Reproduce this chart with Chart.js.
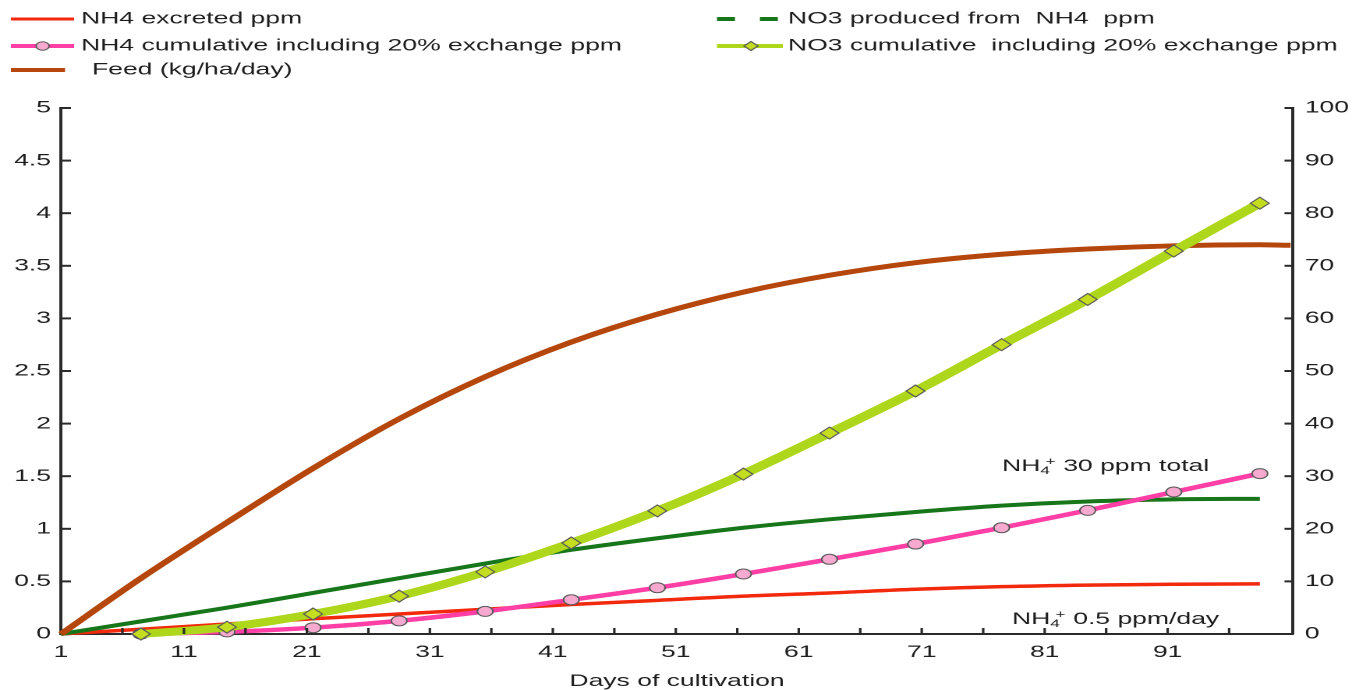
<!DOCTYPE html>
<html>
<head>
<meta charset="utf-8">
<title>Nitrogen budget over the cultivation period</title>
<script src="https://cdn.jsdelivr.net/npm/chart.js@4/dist/chart.umd.min.js"></script>
<style>
  html, body { margin: 0; padding: 0; background: #ffffff; overflow: hidden; }
  /* the chart is laid out narrow and widened horizontally */
  #wrap { width: 867px; height: 690px; transform: scaleX(1.5594); transform-origin: 0 0; }
  canvas { display: block; }
</style>
</head>
<body>
<div id="wrap"><canvas id="chart" width="867" height="690"></canvas></div>
<script>
// Day of cultivation for each sampled point (weekly marker points, plus start and end)
const days = [1, 7.5, 14.5, 21.5, 28.5, 35.5, 42.5, 49.5, 56.5, 63.5, 70.5, 77.5, 84.5, 91.5, 98.5, 101];

// Left axis (0-5)
const nh4Excreted = [0, 0.045, 0.095, 0.145, 0.19, 0.235, 0.28, 0.32, 0.36, 0.39, 0.425, 0.45, 0.465, 0.473, 0.476, null];
const no3Produced = [0, 0.12, 0.25, 0.39, 0.53, 0.67, 0.80, 0.91, 1.01, 1.09, 1.16, 1.22, 1.26, 1.28, 1.285, null];

// Right axis (0-100)
const feed = [0, 10.6, 21.2, 31.5, 40.9, 48.9, 55.5, 60.8, 65.0, 68.2, 70.6, 72.2, 73.2, 73.8, 74.0, 73.9];
const nh4Cumulative = [null, 0, 0.4, 1.2, 2.5, 4.3, 6.5, 8.8, 11.4, 14.2, 17.1, 20.2, 23.5, 27.0, 30.5, null];
const no3Cumulative = [null, 0, 1.3, 3.8, 7.2, 11.8, 17.3, 23.4, 30.4, 38.2, 46.2, 55.0, 63.6, 72.8, 81.9, null];

// Axis ranges and tick steps
const leftTicks = { min: 0, max: 5, step: 0.5 };
const rightTicks = { min: 0, max: 100, step: 10 };
const dayTicks = { min: 1, max: 101.2, last: 96, minorStep: 5, labelStep: 10 };

const seriesNames = [
  'NH4 excreted ppm',
  'NH4 cumulative including 20% exchange ppm',
  'Feed (kg/ha/day)',
  'NO3 produced from  NH4  ppm',
  'NO3 cumulative  including 20% exchange ppm'
];

const FONT = '"Liberation Sans", Arial, Helvetica, sans-serif';
const TEXT = '#1e1e1e';
const AXIS = '#2a2a2a';
const FS = 17;

const C = {
  red: '#f2290c',
  pink: '#ff3fa6',
  pinkFill: '#f7a9cf',
  brown: '#b5470d',
  green: '#17761a',
  lime: '#aed61a',
  limeFill: '#c5dd1f',
  marker: '#5a5a5a'
};

const pts = (arr) => arr.map((v, i) => ({ x: days[i], y: v }));
const markerRadius = days.map((d, i) => (i === 0 ? 0 : 5));

Chart.defaults.font.family = FONT;
Chart.defaults.font.size = FS;
Chart.defaults.color = TEXT;

function line(ctx, x1, y1, x2, y2) {
  ctx.beginPath(); ctx.moveTo(x1, y1); ctx.lineTo(x2, y2); ctx.stroke();
}

// text with NH4 subscript and + superscript
function drawIon(ctx, x, y, rest) {
  ctx.font = FS + 'px ' + FONT;
  ctx.textBaseline = 'alphabetic';
  ctx.textAlign = 'left';
  ctx.fillStyle = TEXT;
  ctx.fillText('NH', x, y);
  x += ctx.measureText('NH').width;
  ctx.font = '11px ' + FONT;
  ctx.fillText('4', x, y + 3);
  const w4 = ctx.measureText('4').width;
  ctx.fillText('+', x + w4 * 0.55, y - 6);
  x += w4 + ctx.measureText('+').width * 0.6;
  ctx.font = FS + 'px ' + FONT;
  ctx.fillText(rest, x, y);
}

const decor = {
  id: 'decor',
  afterDraw(chart) {
    const { ctx, chartArea: a, scales } = chart;
    ctx.save();

    // inward tick marks
    ctx.strokeStyle = AXIS;
    ctx.lineWidth = 1.6;
    scales.x.ticks.forEach(t => {
      if (t.value <= dayTicks.min) return;
      const px = scales.x.getPixelForValue(t.value);
      line(ctx, px, a.bottom, px, a.bottom - 6);
    });
    ctx.lineWidth = 2;
    scales.y.ticks.forEach(t => {
      if (t.value <= 0) return;
      const py = scales.y.getPixelForValue(t.value);
      line(ctx, a.left, py, a.left + 6.4, py);
    });
    scales.y1.ticks.forEach(t => {
      if (t.value <= 0) return;
      const py = scales.y1.getPixelForValue(t.value);
      line(ctx, a.right, py, a.right - 5.5, py);
    });

    // legend
    ctx.font = FS + 'px ' + FONT;
    ctx.textBaseline = 'middle';
    ctx.textAlign = 'left';
    ctx.fillStyle = TEXT;

    // NH4 excreted
    ctx.strokeStyle = C.red; ctx.lineWidth = 3;
    line(ctx, 7, 19, 47.5, 19);
    ctx.fillText(seriesNames[0], 52, 19);

    // NH4 cumulative
    ctx.strokeStyle = C.pink; ctx.lineWidth = 4;
    line(ctx, 7, 46, 47.5, 46);
    ctx.beginPath(); ctx.arc(27.3, 46, 4.2, 0, Math.PI * 2);
    ctx.fillStyle = C.pinkFill; ctx.fill();
    ctx.strokeStyle = C.marker; ctx.lineWidth = 1; ctx.stroke();
    ctx.fillStyle = TEXT;
    ctx.fillText(seriesNames[1], 52, 46);

    // Feed
    ctx.strokeStyle = C.brown; ctx.lineWidth = 4;
    line(ctx, 7, 70, 41.7, 70);
    ctx.fillText(seriesNames[2], 59, 70);

    // NO3 produced (dashed sample)
    ctx.strokeStyle = C.green; ctx.lineWidth = 4;
    ctx.setLineDash([11.5, 16]);
    line(ctx, 459.8, 19, 499.5, 19);
    ctx.setLineDash([]);
    ctx.fillText(seriesNames[3], 505.3, 19);

    // NO3 cumulative
    ctx.strokeStyle = C.lime; ctx.lineWidth = 4;
    line(ctx, 459.8, 46, 502, 46);
    ctx.beginPath();
    ctx.moveTo(481.6, 41.5); ctx.lineTo(486.1, 46); ctx.lineTo(481.6, 50.5); ctx.lineTo(477.1, 46); ctx.closePath();
    ctx.fillStyle = C.limeFill; ctx.fill();
    ctx.strokeStyle = C.marker; ctx.lineWidth = 1; ctx.stroke();
    ctx.fillStyle = TEXT;
    ctx.fillText(seriesNames[4], 505.3, 46);

    // annotations
    drawIon(ctx, 642.6, 471, ' 30 ppm total');
    drawIon(ctx, 649, 624, ' 0.5 ppm/day');

    ctx.restore();
  }
};

const borderOpts = { display: true, color: AXIS, width: 2 };
const gridOpts = { display: true, drawOnChartArea: false, drawTicks: false };

new Chart(document.getElementById('chart'), {
  type: 'line',
  data: {
    datasets: [
      {
        label: seriesNames[4], data: pts(no3Cumulative), yAxisID: 'y1', order: 1,
        borderColor: C.lime, borderWidth: 8, cubicInterpolationMode: 'monotone',
        pointStyle: 'rectRot', pointRadius: markerRadius.map(r => r ? 6 : 0),
        pointBackgroundColor: C.limeFill, pointBorderColor: C.marker, pointBorderWidth: 1
      },
      {
        label: seriesNames[1], data: pts(nh4Cumulative), yAxisID: 'y1', order: 2,
        borderColor: C.pink, borderWidth: 4.5, cubicInterpolationMode: 'monotone',
        pointStyle: 'circle', pointRadius: markerRadius,
        pointBackgroundColor: C.pinkFill, pointBorderColor: C.marker, pointBorderWidth: 1
      },
      {
        label: seriesNames[2], data: pts(feed), yAxisID: 'y1', order: 3,
        borderColor: C.brown, borderWidth: 5, cubicInterpolationMode: 'monotone', pointRadius: 0
      },
      {
        label: seriesNames[3], data: pts(no3Produced), yAxisID: 'y', order: 4,
        borderColor: C.green, borderWidth: 4, cubicInterpolationMode: 'monotone', pointRadius: 0
      },
      {
        label: seriesNames[0], data: pts(nh4Excreted), yAxisID: 'y', order: 5,
        borderColor: C.red, borderWidth: 3.5, cubicInterpolationMode: 'monotone', pointRadius: 0
      }
    ]
  },
  options: {
    responsive: false,
    animation: false,
    devicePixelRatio: 2,
    spanGaps: false,
    clip: false,
    layout: { padding: { top: 108, left: 0, right: 0, bottom: 0 } },
    plugins: { legend: { display: false }, tooltip: { enabled: false } },
    elements: { line: { borderCapStyle: 'butt', borderJoinStyle: 'round' } },
    scales: {
      x: {
        type: 'linear', min: dayTicks.min, max: dayTicks.max,
        afterBuildTicks(scale) {
          const t = [];
          for (let v = dayTicks.min; v <= dayTicks.last; v += dayTicks.minorStep) t.push({ value: v });
          scale.ticks = t;
        },
        afterFit(scale) { scale.height = 56; },
        ticks: {
          autoSkip: false, maxRotation: 0, padding: 8, color: TEXT,
          callback: v => ((v - dayTicks.min) % dayTicks.labelStep === 0 ? String(v) : '')
        },
        grid: gridOpts, border: borderOpts,
        title: {
          display: true, text: 'Days of cultivation', color: TEXT,
          font: { size: FS, lineHeight: 1 }, padding: { top: 0, bottom: 0 }
        }
      },
      y: {
        position: 'left', min: leftTicks.min, max: leftTicks.max,
        afterFit(scale) { scale.width = 39.1; },
        ticks: { stepSize: leftTicks.step, padding: 6.4, color: TEXT, callback: v => String(v) },
        grid: gridOpts, border: borderOpts
      },
      y1: {
        position: 'right', min: rightTicks.min, max: rightTicks.max,
        afterFit(scale) { scale.width = 37.8; },
        ticks: { stepSize: rightTicks.step, padding: 7.5, color: TEXT, callback: v => String(v) },
        grid: gridOpts, border: borderOpts
      }
    }
  },
  plugins: [decor]
});
</script>
</body>
</html>
